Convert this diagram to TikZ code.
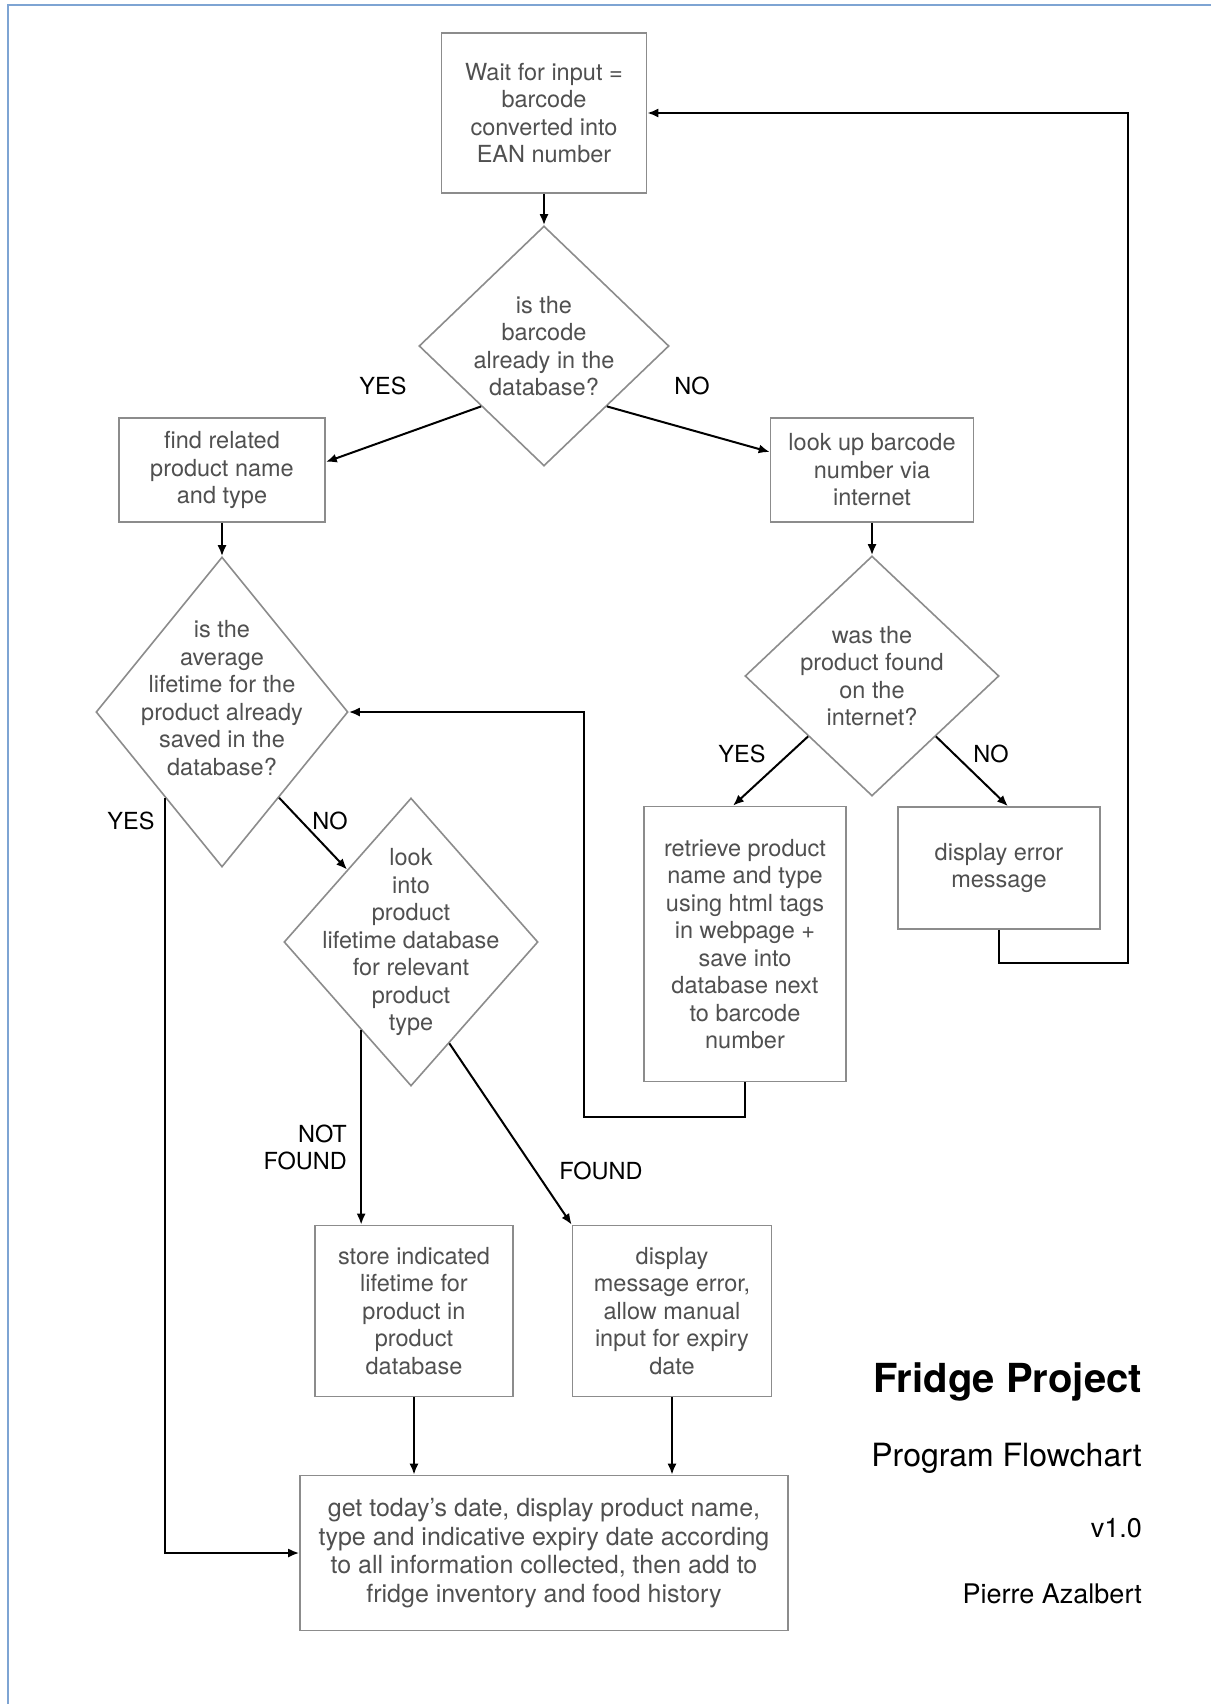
\documentclass[tikz,border=0pt]{standalone}
\usepackage{fontspec}
\setmainfont{TeX Gyre Heros}
\usepackage{xcolor}
\definecolor{mgray}{HTML}{505050}
\definecolor{mline}{HTML}{8C8C8C}
\definecolor{mblue}{HTML}{7EA4D3}
\usetikzlibrary{shapes.geometric,arrows.meta,calc}

\begin{document}
\begin{tikzpicture}[x=1pt, y=-1pt,
    >={Latex[length=11pt,width=9pt]},
    box/.style={draw=mline, line width=1.6pt, text=mgray, align=center,
      font=\fontsize{23.5}{27.5}\selectfont, inner sep=0pt},
    decision/.style={draw=mline, line width=1.6pt, diamond, inner sep=0pt},
    dtext/.style={text=mgray, align=center, font=\fontsize{23.5}{27.5}\selectfont},
    flow/.style={line width=2pt, ->},
    answer/.style={font=\fontsize{23.5}{27}\selectfont, inner sep=0pt}]

  \fill[white] (0,0) rectangle (1211,1704);
  \useasboundingbox (0,0) rectangle (1211,1704);
  \draw[mblue, line width=2.5pt] (8,1704) -- (8,5) -- (1211,5);

  % boxes and decisions
  \node[box, minimum width=205pt, minimum height=160pt] (wait) at (544,113)
    {Wait for input =\\barcode\\converted into\\EAN number};
  \node[decision, minimum width=250pt, minimum height=240pt] (inbase) at (544,346) {};
  \node[dtext] (inbasetxt) at (inbase) {is the\\barcode\\already in the\\database?};

  \node[box, minimum width=206pt, minimum height=104pt] (related) at (222,470)
    {find related\\product name\\and type};
  \node[box, minimum width=203pt, minimum height=104pt] (lookup) at (872,470)
    {look up barcode\\number via\\internet};

  \node[decision, minimum width=252pt, minimum height=310pt] (avglife) at (222,712) {};
  \node[dtext] (avglifetxt) at ([yshift=14pt]avglife)
    {is the\\average\\lifetime for the\\product already\\saved in the\\database?};

  \node[decision, minimum width=254pt, minimum height=240pt] (online) at (872,676) {};
  \node[dtext] (onlinetxt) at (online) {was the\\product found\\on the\\internet?};

  \node[box, minimum width=202pt, minimum height=275pt] (retrieve) at (745,944)
    {retrieve product\\name and type\\using html tags\\in webpage +\\save into\\database next\\to barcode\\number};
  \node[box, minimum width=202pt, minimum height=122pt] (error) at (999,868)
    {display error\\message};

  \node[decision, minimum width=254pt, minimum height=288pt] (lifebase) at (411,942) {};
  \node[dtext] (lifebasetxt) at (lifebase)
    {look\\into\\product\\lifetime database\\for relevant\\product\\type};

  \node[box, minimum width=198pt, minimum height=171pt] (store) at (414,1311)
    {store indicated\\lifetime for\\product in\\product\\database};
  \node[box, minimum width=199pt, minimum height=171pt] (manual) at (672,1311)
    {display\\message error,\\allow manual\\input for expiry\\date};

  \node[box, minimum width=488pt, minimum height=155pt, font=\fontsize{25}{28.5}\selectfont] (today) at (544,1553)
    {get today's date, display product name,\\type and indicative expiry date according\\to all information collected, then add to\\fridge inventory and food history};

  % title block
  \node[anchor=base east, inner sep=0pt, font=\fontsize{40}{40}\selectfont\bfseries] (title) at (1142,1392) {Fridge Project};
  \node[anchor=base east, inner sep=0pt, font=\fontsize{32}{32}\selectfont] (subtitle) at (1142,1466) {Program Flowchart};
  \node[anchor=base east, inner sep=0pt, font=\fontsize{27}{27}\selectfont] (version) at (1142,1537) {v1.0};
  \node[anchor=base east, inner sep=0pt, font=\fontsize{27}{27}\selectfont] (author) at (1142,1603) {Pierre Azalbert};

  % answers
  \node[answer] (yes1) at (383,386) {YES};
  \node[answer] (no1) at (692,386) {NO};
  \node[answer] (yes2) at (742,754) {YES};
  \node[answer] (no2) at (991,754) {NO};
  \node[answer] (yes3) at (131,821) {YES};
  \node[answer] (no3) at (330,821) {NO};
  \node[answer, align=right, anchor=east] (notfound) at (347,1147) {NOT\\FOUND};
  \node[answer] (found) at (601,1171) {FOUND};

  % connectors
  \coordinate (loopr) at (1128,963);
  \coordinate (backl) at (584,1117);
  \coordinate (nf) at ($(lifebase.south)!0.39!(lifebase.west)$);

  \draw[flow] (wait.south) -- (inbase.north);
  \draw[flow] (inbase.south west) -- ([yshift=8pt]related.east);
  \draw[flow] (inbase.south east) -- ([yshift=18pt]lookup.west);
  \draw[flow] (related.south) -- (avglife.north);
  \draw[flow] (lookup.south) -- (online.north);
  \draw[flow] (online.south west) -- ([xshift=-12pt]retrieve.north);
  \draw[flow] (online.south east) -- ([xshift=9pt]error.north);
  \draw[flow] (error.south) |- (loopr) |- (wait.east);
  \draw[flow] (retrieve.south) |- (backl) |- (avglife.east);
  \draw[flow] ($(avglife.south)!0.45!(avglife.west)$) |- (today.west);
  \draw[flow] ($(avglife.south)!0.45!(avglife.east)$) -- (lifebase.north west);
  \draw[flow] (nf) -- (nf |- store.north);
  \draw[flow] ($(lifebase.south)!0.3!(lifebase.east)$) -- (manual.north west);
  \draw[flow] (store.south) -- (store.south |- today.north);
  \draw[flow] (manual.south) -- (manual.south |- today.north);

\end{tikzpicture}
\end{document}
